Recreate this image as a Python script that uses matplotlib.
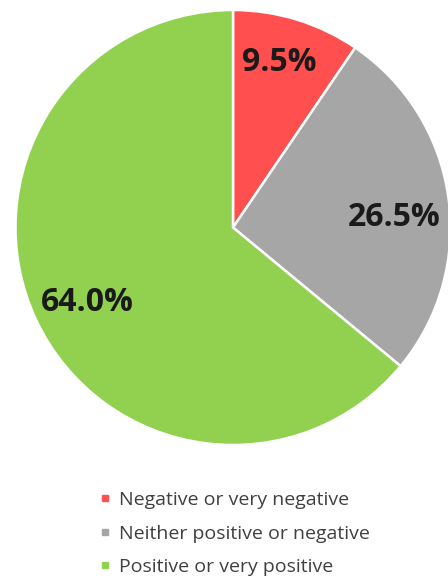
import matplotlib
matplotlib.use("Agg")
import matplotlib.pyplot as plt
from matplotlib.lines import Line2D

categories = ["Negative or very negative", "Neither positive or negative", "Positive or very positive"]
values = [9.5, 26.5, 64.0]
colors = ["#FF4F4F", "#A6A6A6", "#92D050"]

W, H = 448, 581
fig = plt.figure(figsize=(W / 100, H / 100), dpi=100)
fig.patch.set_facecolor("white")

cx, cy, R = 233, 227.5, 217.5
ax = fig.add_axes([(cx - R) / W, (H - cy - R) / H, 2 * R / W, 2 * R / H])

wedges, texts, autotexts = ax.pie(
    values, colors=colors, startangle=90, counterclock=False,
    autopct="%.1f%%", pctdistance=0.76,
    wedgeprops=dict(edgecolor="white", linewidth=1.8),
    textprops=dict(fontsize=23, fontweight="bold", color="#1a1a1a", family="Open Sans"),
)
# small label nudges (label placement in the original is not exactly at mid-angle)
nudges = [(-0.01, 0.03), (-0.01, -0.06), (0.02, -0.02)]
for t, (dx, dy) in zip(autotexts, nudges):
    x, y = t.get_position()
    t.set_position((x + dx, y + dy))

ax.set_xlim(-1, 1)
ax.set_ylim(-1, 1)
ax.set_aspect("equal")
ax.axis("off")

handles = [Line2D([], [], marker="s", linestyle="none", markersize=5,
                  markerfacecolor=c, markeredgecolor=c) for c in colors]
leg = fig.legend(handles, categories, loc="upper left",
                 bbox_to_anchor=(99 / W, 1 - 491 / H), frameon=False,
                 prop=dict(family="Open Sans", size=14), labelcolor="#404040",
                 handlelength=0.6, handletextpad=0.45, labelspacing=0.8,
                 borderpad=0, borderaxespad=0)

fig.savefig("out.png", dpi=100, facecolor="white")
